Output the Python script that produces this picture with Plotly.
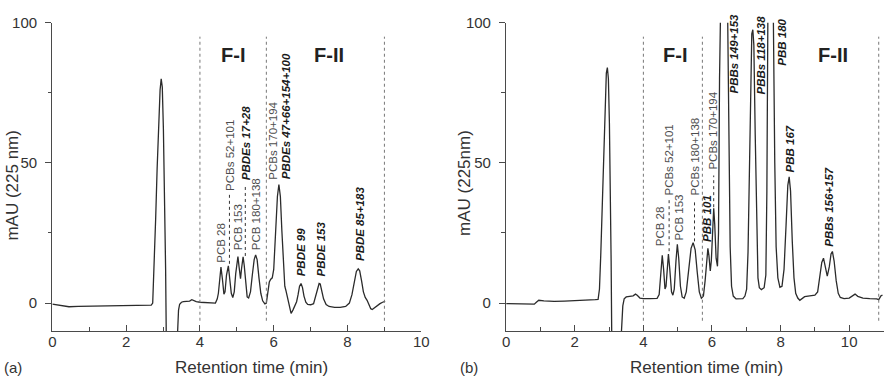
import plotly.graph_objects as go

# ---------------- data ----------------
TIME_A = [0.00, 0.10, 0.25, 0.45, 0.70, 1.00, 1.30, 1.60, 1.90, 2.20, 2.50, 2.68, 2.72, 2.76, 2.80, 2.84,
          2.88, 2.92, 2.95, 2.98, 3.01, 3.04, 3.07, 3.09, 3.20, 3.38, 3.40, 3.42, 3.45, 3.50, 3.55, 3.65,
          3.72, 3.78, 3.82, 3.90, 4.00, 4.15, 4.30, 4.42, 4.47, 4.50, 4.53, 4.57, 4.61, 4.65, 4.68, 4.72,
          4.77, 4.81, 4.85, 4.89, 4.93, 4.97, 5.00, 5.03, 5.06, 5.10, 5.13, 5.17, 5.20, 5.24, 5.28, 5.32,
          5.37, 5.42, 5.47, 5.51, 5.55, 5.60, 5.65, 5.70, 5.76, 5.80, 5.84, 5.88, 5.92, 5.96, 6.00, 6.05,
          6.10, 6.14, 6.18, 6.22, 6.26, 6.30, 6.33, 6.37, 6.42, 6.47, 6.52, 6.57, 6.62, 6.66, 6.70, 6.74,
          6.78, 6.82, 6.87, 6.92, 7.00, 7.08, 7.13, 7.18, 7.23, 7.26, 7.30, 7.35, 7.42, 7.50, 7.65, 7.80,
          7.95, 8.05, 8.12, 8.18, 8.24, 8.29, 8.33, 8.38, 8.43, 8.48, 8.53, 8.58, 8.63, 8.67, 8.72, 8.80,
          8.88, 8.95, 9.02]
ABS_A = [-0.4, -0.6, -1.0, -1.3, -1.2, -1.1, -1.0, -0.9, -0.8, -0.8, -0.7, -0.7, 0.0, 12, 30, 48,
         64, 76, 80, 77, 62, 40, 12, -15, -30, -15, -6, -2.5, -0.4, 0.3, 0.5, 0.5,
         0.7, 1.2, 0.9, 0.5, 0.3, 0.2, 0.0, 0.0, 1.5, 3.5, 7.5, 12.8, 8.5, 3.2, 4.0, 10.0,
         13.3, 9.0, 3.5, 2.0, 4.0, 10.5, 15.0, 16.6, 13.0, 8.7, 12.5, 16.5, 13.5, 6.0, 2.2, 1.8,
         4.0, 10.0, 15.5, 17.2, 15.5, 9.0, 3.5, 0.8, -0.3, 0.0, 3.0, 7.5, 8.5, 9.0, 12.0, 24.0,
         38.0, 42.3, 38.0, 26.0, 13.0, 6.0, 4.5, 2.0, -1.5, -3.7, -2.5, -1.2, 0.5, 3.0, 6.0, 7.0,
         5.5, 2.5, 0.3, -0.5, -0.6, -0.2, 2.0, 5.0, 7.0, 6.8, 4.5, 1.5, -0.5, -1.2, -1.5, -1.5,
         -1.2, 0.0, 3.0, 7.5, 11.3, 12.2, 11.5, 8.0, 4.0, 2.0, 1.0, -0.5, -2.0, -2.3, -1.8, -0.8,
         -0.2, 0.3, 0.6]

TIME_B = [0.00, 0.30, 0.60, 0.82, 0.88, 0.95, 1.10, 1.40, 1.70, 2.00, 2.30, 2.60, 2.68, 2.72, 2.76, 2.80,
          2.84, 2.88, 2.92, 2.95, 2.98, 3.01, 3.04, 3.06, 3.08, 3.20, 3.34, 3.37, 3.40, 3.44, 3.50, 3.60,
          3.70, 3.77, 3.82, 3.90, 4.00, 4.20, 4.40, 4.46, 4.50, 4.55, 4.59, 4.63, 4.66, 4.69, 4.73, 4.77,
          4.82, 4.86, 4.90, 4.95, 4.99, 5.03, 5.08, 5.13, 5.19, 5.25, 5.32, 5.39, 5.45, 5.51, 5.57, 5.63,
          5.69, 5.75, 5.80, 5.85, 5.88, 5.91, 5.95, 5.98, 6.02, 6.05, 6.08, 6.12, 6.16, 6.19, 6.22, 6.24,
          6.33, 6.45, 6.50, 6.53, 6.57, 6.62, 6.70, 6.80, 6.90, 6.96, 7.01, 7.05, 7.09, 7.13, 7.16, 7.19,
          7.22, 7.26, 7.30, 7.34, 7.38, 7.44, 7.52, 7.57, 7.60, 7.63, 7.70, 7.79, 7.83, 7.87, 7.92, 7.98,
          8.04, 8.10, 8.16, 8.21, 8.25, 8.29, 8.34, 8.39, 8.44, 8.50, 8.56, 8.62, 8.70, 8.85, 9.00, 9.08,
          9.14, 9.20, 9.25, 9.30, 9.36, 9.42, 9.47, 9.51, 9.56, 9.62, 9.68, 9.74, 9.85, 10.00, 10.10, 10.17,
          10.25, 10.40, 10.60, 10.80, 10.86, 10.92, 10.97]
ABS_B = [-0.2, -0.3, -0.3, -0.4, 0.3, 1.0, 0.8, 0.6, 0.7, 0.8, 1.0, 1.2, 1.3, 5.0, 18, 36,
         56, 72, 82, 84, 80, 64, 40, 15, -15, -30, -15, -6, -1.0, 1.5, 2.2, 2.4,
         2.6, 3.2, 2.8, 1.8, 1.6, 1.6, 1.7, 3.0, 9.0, 17.0, 12.0, 5.0, 6.0, 13.0, 17.5, 12.0,
         4.0, 2.8, 5.0, 15.0, 21.0, 16.0, 6.0, 2.2, 1.7, 4.0, 12.0, 19.5, 21.5, 19.0, 11.0, 4.0,
         1.7, 2.5, 8.0, 17.0, 19.5, 17.0, 11.5, 15.0, 28.0, 33.8, 28.0, 16.0, 13.1, 25.0, 80, 110,
         170, 110, 50, 20, 6.0, 2.5, 1.5, 1.5, 1.6, 2.5, 5.0, 18, 50, 85, 96, 97.5,
         92, 60, 25, 9.0, 5.5, 4.8, 5.5, 10, 40, 105, 150, 100, 50, 20, 9.0, 5.6,
         6.0, 12.0, 28.0, 42.0, 45.0, 40.0, 22.0, 9.0, 3.5, 1.8, 1.0, 1.5, 2.3, 2.6, 2.8, 4.0,
         9.0, 14.5, 16.0, 13.5, 9.6, 13.0, 17.5, 18.4, 15.0, 8.0, 3.5, 2.0, 1.6, 1.8, 2.5, 3.2,
         2.4, 1.8, 1.6, 1.5, 1.2, 2.5, 2.9]

FRACTIONS_A = [4.0, 5.8, 9.0]
FRACTIONS_B = [4.0, 5.72, 10.86]
FRACTION_NAMES = ["F-I", "F-II"]
FRACTION_NAME_X_A = [4.9, 7.49]
FRACTION_NAME_X_B = [4.92, 9.52]

# peak labels: text, x (min), y of label start (mAU), emphasised (PBDE/PBB)
LABEL_TEXT_A = ["PCB 28", "PCBs 52+101", "PCB 153", "PBDEs 17+28", "PCB 180+138", "PCBs 170+194",
                "PBDEs 47+66+154+100", "PBDE 99", "PBDE 153", "PBDE 85+183"]
LABEL_X_A = [4.58, 4.81, 5.02, 5.24, 5.51, 5.99, 6.33, 6.75, 7.27, 8.32]
LABEL_Y_A = [13.8, 39.4, 18.0, 43.0, 18.0, 43.4, 43.4, 8.8, 8.8, 14.4]
LABEL_EMPH_A = [False, False, False, True, False, False, True, True, True, True]

LABEL_TEXT_B = ["PCB 28", "PCBs 52+101", "PCB 153", "PCBs 180+138", "PBB 101", "PCBs 170+194",
                "PBBs 149+153", "PBBs 118+138", "PBB 180", "PBB 167", "PBBs 156+157"]
LABEL_X_B = [4.51, 4.75, 5.03, 5.49, 5.86, 6.03, 6.64, 7.43, 8.03, 8.27, 9.42]
LABEL_Y_B = [19.5, 37.5, 21.5, 37.5, 21.0, 46.9, 74.0, 73.5, 84.0, 46.0, 19.5]
LABEL_EMPH_B = [False, False, False, False, True, False, True, True, True, True, True]

# dashed leader lines: x, y from, y to
LEADER_X_A = [4.80, 5.23]
LEADER_Y0_A = [14.0, 16.8]
LEADER_Y1_A = [38.6, 42.2]
LEADER_X_B = [4.75, 5.49, 6.05]
LEADER_Y0_B = [18.5, 22.0, 34.2]
LEADER_Y1_B = [36.8, 36.8, 45.5]

# ---------------- figure ----------------
FONT = "Arial, Liberation Sans, sans-serif"
LINE_C = "#2b2b2b"
AX_C = "#4a4a4a"
W, H = 893, 377

fig = go.Figure()
fig.add_trace(go.Scatter(x=TIME_A, y=ABS_A, mode="lines", line=dict(color=LINE_C, width=1.3),
                         xaxis="x", yaxis="y", showlegend=False, hoverinfo="skip"))
fig.add_trace(go.Scatter(x=TIME_B, y=ABS_B, mode="lines", line=dict(color=LINE_C, width=1.3),
                         xaxis="x2", yaxis="y2", showlegend=False, hoverinfo="skip"))

def px_x(p):
    return p / W

def px_y(p):
    return (H - p) / H

ydom = [px_y(330), px_y(14)]
TICK_FONT = dict(family=FONT, size=15, color="#333")

def xax(domain, rng):
    return dict(domain=domain, range=rng, showgrid=False, zeroline=False, showline=True,
                linecolor=AX_C, linewidth=1.4, ticks="inside", ticklen=6, tickwidth=1.2,
                tickcolor=AX_C, dtick=2, tick0=0, ticklabelstandoff=-3,
                minor=dict(ticks="inside", ticklen=3.5, dtick=1, tickcolor=AX_C, tickwidth=1.1),
                tickfont=TICK_FONT, fixedrange=True)

def yax(anchor):
    return dict(domain=ydom, range=[-10, 100], anchor=anchor, showgrid=False, zeroline=False,
                showline=True, linecolor=AX_C, linewidth=1.4, ticks="outside", ticklen=6,
                tickwidth=1.2, tickcolor=AX_C, tickvals=[0, 50, 100], ticklabelstandoff=5,
                minor=dict(ticks="outside", ticklen=3.5, tickvals=[25, 75], tickcolor=AX_C, tickwidth=1.1),
                tickfont=TICK_FONT, fixedrange=True)

fig.update_layout(
    width=W, height=H, margin=dict(l=0, r=0, t=0, b=0),
    paper_bgcolor="white", plot_bgcolor="white",
    xaxis=dict(**xax([px_x(49), px_x(423)], [0, 10]), anchor="y"),
    yaxis=yax("x"),
    xaxis2=dict(**xax([px_x(509), px_x(891.5)], [0, 11]), anchor="y2"),
    yaxis2=yax("x2"),
)

shapes = []
ann = []

def add_panel(xr, yr, fractions, fnames_x, texts, lx, ly, emph, ldx, ldy0, ldy1):
    for f in fractions:
        shapes.append(dict(type="line", xref=xr, yref=yr, x0=f, x1=f, y0=-6.3, y1=95,
                           line=dict(color="#777", width=1, dash="dot")))
    for name, fx in zip(FRACTION_NAMES, fnames_x):
        ann.append(dict(xref=xr, yref=yr, x=fx, y=88.5, text="<b>%s</b>" % name, showarrow=False,
                        xanchor="center", yanchor="middle",
                        font=dict(family=FONT, size=20, color="#222")))
    for t, x, y, e in zip(texts, lx, ly, emph):
        if e:
            txt = "<b><i>%s</i></b>" % t
            col = "#1a1a1a"
        else:
            txt = t
            col = "#4d4d4d"
        ann.append(dict(xref=xr, yref=yr, x=x, y=y, text=txt, textangle=-90, showarrow=False,
                        xanchor="center", yanchor="bottom",
                        font=dict(family=FONT, size=11.5, color=col)))
    for x, y0, y1 in zip(ldx, ldy0, ldy1):
        shapes.append(dict(type="line", xref=xr, yref=yr, x0=x, x1=x, y0=y0, y1=y1,
                           line=dict(color="#333", width=1, dash="dot")))

add_panel("x", "y", FRACTIONS_A, FRACTION_NAME_X_A, LABEL_TEXT_A, LABEL_X_A, LABEL_Y_A, LABEL_EMPH_A,
          LEADER_X_A, LEADER_Y0_A, LEADER_Y1_A)
add_panel("x2", "y2", FRACTIONS_B, FRACTION_NAME_X_B, LABEL_TEXT_B, LABEL_X_B, LABEL_Y_B, LABEL_EMPH_B,
          LEADER_X_B, LEADER_Y0_B, LEADER_Y1_B)

# axis titles and panel letters
TITLE_FONT = dict(family=FONT, size=17, color="#333")
ann.append(dict(xref="paper", yref="paper", x=px_x(251), y=px_y(367), text="Retention time (min)",
                showarrow=False, xanchor="center", yanchor="middle", font=TITLE_FONT))
ann.append(dict(xref="paper", yref="paper", x=px_x(712.5), y=px_y(367), text="Retention time (min)",
                showarrow=False, xanchor="center", yanchor="middle", font=TITLE_FONT))
ann.append(dict(xref="paper", yref="paper", x=px_x(9), y=px_y(180), text="mAU (225 nm)", textangle=-90,
                showarrow=False, xanchor="center", yanchor="middle", font=dict(family=FONT, size=17, color="#333")))
ann.append(dict(xref="paper", yref="paper", x=px_x(467), y=px_y(178.5), text="mAU (225nm)", textangle=-90,
                showarrow=False, xanchor="center", yanchor="middle", font=dict(family=FONT, size=17, color="#333")))
ann.append(dict(xref="paper", yref="paper", x=px_x(9), y=px_y(367), text="(a)", showarrow=False,
                xanchor="center", yanchor="middle", font=dict(family=FONT, size=15, color="#333")))
ann.append(dict(xref="paper", yref="paper", x=px_x(471), y=px_y(367), text="(b)", showarrow=False,
                xanchor="center", yanchor="middle", font=dict(family=FONT, size=15, color="#333")))

fig.update_layout(shapes=shapes, annotations=ann)
fig.write_html("out.html")
